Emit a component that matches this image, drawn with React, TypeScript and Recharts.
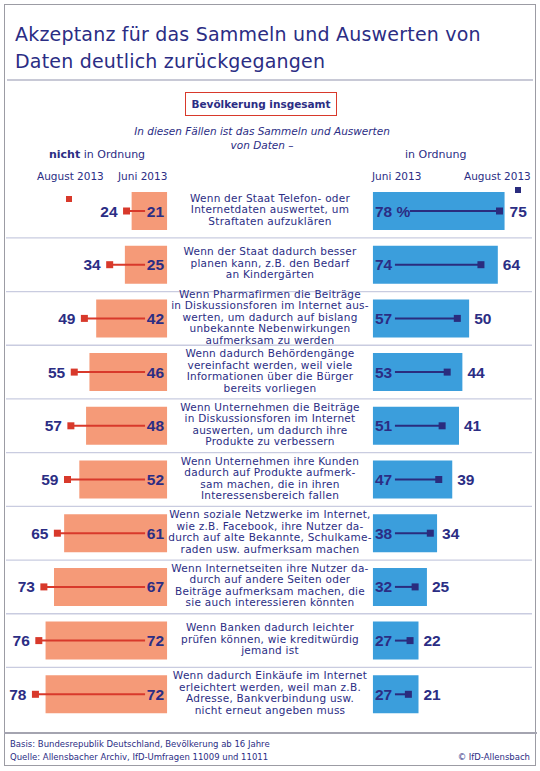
import { Bar, BarChart, LabelList, XAxis, YAxis } from "recharts";

const NAVY = "#2b2d84";
const SALMON = "#f59a78";
const BLUE = "#3b9edc";
const RED = "#d8392b";
const LINE_NAVY = "#2a2c7e";
const RULE = "#c9cce0";
const FONT = '"DejaVu Sans", sans-serif';
const NUM_FONT = '"Liberation Sans", Arial, sans-serif';

const statements = [
  "Wenn der Staat Telefon- oder\nInternetdaten auswertet, um\nStraftaten aufzuklären",
  "Wenn der Staat dadurch besser\nplanen kann, z.B. den Bedarf\nan Kindergärten",
  "Wenn Pharmafirmen die Beiträge\nin Diskussionsforen im Internet aus-\nwerten, um dadurch auf bislang\nunbekannte Nebenwirkungen\naufmerksam zu werden",
  "Wenn dadurch Behördengänge\nvereinfacht werden, weil viele\nInformationen über die Bürger\nbereits vorliegen",
  "Wenn Unternehmen die Beiträge\nin Diskussionsforen im Internet\nauswerten, um dadurch ihre\nProdukte zu verbessern",
  "Wenn Unternehmen ihre Kunden\ndadurch auf Produkte aufmerk-\nsam machen, die in ihren\nInteressensbereich fallen",
  "Wenn soziale Netzwerke im Internet,\nwie z.B. Facebook, ihre Nutzer da-\ndurch auf alte Bekannte, Schulkame-\nraden usw. aufmerksam machen",
  "Wenn Internetseiten ihre Nutzer da-\ndurch auf andere Seiten oder\nBeiträge aufmerksam machen, die\nsie auch interessieren könnten",
  "Wenn Banken dadurch leichter\nprüfen können, wie kreditwürdig\njemand ist",
  "Wenn dadurch Einkäufe im Internet\nerleichtert werden, weil man z.B.\nAdresse, Bankverbindung usw.\nnicht erneut angeben muss",
];

// "nicht in Ordnung"
const nichtJuni = [21, 25, 42, 46, 48, 52, 61, 67, 72, 72];
const nichtAugust = [24, 34, 49, 55, 57, 59, 65, 73, 76, 78];
// "in Ordnung"
const okJuni = [78, 74, 57, 53, 51, 47, 38, 32, 27, 27];
const okAugust = [75, 64, 50, 44, 41, 39, 34, 25, 22, 21];

// half width of the text column in the middle, in percentage points
const GAP = 61;
const W = 540;
const H = 771;
const TOP = 184;
const BOTTOM = 50;
const BAND = (H - TOP - BOTTOM) / statements.length;
const MID = W / 2;

const rows = statements.map((name, i) => ({
  name,
  nichtJuni: nichtJuni[i],
  nichtAugust: nichtAugust[i],
  okJuni: okJuni[i],
  okAugust: okAugust[i],
  leftBar: [-(GAP + nichtJuni[i]), -GAP],
  leftLine: [-(GAP + nichtAugust[i]), -GAP],
  rightBar: [GAP, GAP + okJuni[i]],
  rightLine: [GAP, GAP + okAugust[i]],
}));

const numStyle = {
  fontFamily: NUM_FONT,
  fontWeight: 700,
  fontSize: 15.5,
  fill: NAVY,
};

function box(p: any) {
  const vb = p.viewBox && p.viewBox.width !== undefined ? p.viewBox : p;
  return { x: vb.x, y: vb.y, width: vb.width, height: vb.height };
}

// statement text in the middle column plus the rule below each row
function StatementLabel(p: any) {
  const b = box(p);
  const cy = b.y + b.height / 2;
  const lines = String(p.value).split("\n");
  const lh = 11.5;
  const y0 = cy - 1.5 - ((lines.length - 1) * lh) / 2;
  return (
    <g>
      <text textAnchor="middle" fill={NAVY} fontSize={10.5} letterSpacing={0.25} fontFamily={FONT}>
        {lines.map((l, i) => (
          <tspan key={i} x={MID} y={y0 + i * lh} dy="0.36em">
            {l}
          </tspan>
        ))}
      </text>
      {p.index < statements.length - 1 ? (
        <line x1={6} x2={532} y1={cy + BAND / 2} y2={cy + BAND / 2} stroke={RULE} strokeWidth={1.3} />
      ) : null}
    </g>
  );
}

function LeftLine(props: any) {
  const { x, y, width, height, payload } = props;
  const cy = y + height / 2;
  const end = x + width - 22;
  return (
    <g>
      <line x1={x} x2={end} y1={cy} y2={cy} stroke={RED} strokeWidth={2} />
      <rect x={x - 3.5} y={cy - 3.5} width={7} height={7} fill={RED} />
      <text x={x - 9} y={cy} dy="0.36em" textAnchor="end" style={numStyle}>
        {payload.nichtAugust}
      </text>
    </g>
  );
}

function RightLine(props: any) {
  const { x, y, width, height, index } = props;
  const cy = y + height / 2;
  const start = x + (index === 0 ? 37 : 22);
  const end = x + width;
  return (
    <g>
      <line x1={start} x2={end} y1={cy} y2={cy} stroke={LINE_NAVY} strokeWidth={2} />
      <rect x={end - 3.5} y={cy - 3.5} width={7} height={7} fill={LINE_NAVY} />
    </g>
  );
}

function LeftJuniLabel(p: any) {
  const b = box(p);
  return (
    <text x={b.x + b.width - 3} y={b.y + b.height / 2} dy="0.36em" textAnchor="end" style={numStyle}>
      {p.value}
    </text>
  );
}

function RightJuniLabel(p: any) {
  const b = box(p);
  return (
    <text x={b.x + 2} y={b.y + b.height / 2} dy="0.36em" textAnchor="start" style={numStyle}>
      {p.index === 0 ? `${p.value} %` : p.value}
    </text>
  );
}

function RightAugustLabel(p: any) {
  const b = box(p);
  return (
    <text x={b.x + b.width + 5} y={b.y + b.height / 2} dy="0.36em" textAnchor="start" style={numStyle}>
      {p.value}
    </text>
  );
}

const abs = (left: number, top: number, extra: any = {}) => ({
  position: "absolute" as const,
  left,
  top,
  whiteSpace: "nowrap" as const,
  ...extra,
});

export default function App() {
  return (
    <div
      style={{
        position: "absolute",
        left: 0,
        top: 0,
        width: W,
        height: H,
        background: "#fff",
        fontFamily: FONT,
        color: NAVY,
      }}
    >
      {/* frame */}
      <div style={abs(4, 4, { width: 530, height: 760, border: "1.5px solid #9c9ca4" })} />
      <div style={abs(7, 79, { width: 526, height: 2, background: "#c8c9d6" })} />
      <div style={abs(4, 732, { width: 533, height: 1.5, background: "#a4a4b0" })} />

      <div style={abs(15, 21, { fontSize: 19, lineHeight: "27px", letterSpacing: 0.2 })}>
        Akzeptanz für das Sammeln und Auswerten von
        <br />
        Daten deutlich zurückgegangen
      </div>

      <div
        style={abs(185, 92, {
          width: 150,
          height: 22,
          border: `1.5px solid ${RED}`,
          fontWeight: 700,
          fontSize: 10.5,
          lineHeight: "22px",
          textAlign: "center",
        })}
      >
        Bevölkerung insgesamt
      </div>

      <div
        style={abs(112, 124, {
          width: 300,
          textAlign: "center",
          fontStyle: "italic",
          fontSize: 10.5,
          lineHeight: "14px",
        })}
      >
        In diesen Fällen ist das Sammeln und Auswerten
        <br />
        von Daten –
      </div>

      <div style={abs(49, 148, { fontSize: 11, lineHeight: "14px" })}>
        <b>nicht</b> in Ordnung
      </div>
      <div style={abs(405, 148, { fontSize: 11, lineHeight: "14px" })}>in Ordnung</div>
      <div style={abs(37, 169, { fontSize: 10.5, lineHeight: "14px" })}>August 2013</div>
      <div style={abs(118, 169, { fontSize: 10.5, lineHeight: "14px" })}>Juni 2013</div>
      <div style={abs(372, 169, { fontSize: 10.5, lineHeight: "14px" })}>Juni 2013</div>
      <div style={abs(464, 169, { fontSize: 10.5, lineHeight: "14px" })}>August 2013</div>
      <div style={abs(66, 196, { width: 6, height: 6, background: RED })} />
      <div style={abs(515, 187, { width: 6, height: 6, background: LINE_NAVY })} />

      <div style={{ position: "absolute", left: 0, top: 0 }}>
        <BarChart
          width={W}
          height={H}
          data={rows}
          layout="vertical"
          barGap={-38}
          margin={{ top: TOP, right: 0, bottom: BOTTOM, left: 0 }}
        >
          <XAxis type="number" domain={[-160, 160]} hide allowDataOverflow />
          <YAxis type="category" dataKey="name" hide />
          <Bar dataKey="leftBar" fill={SALMON} barSize={38} isAnimationActive={false}>
            <LabelList dataKey="nichtJuni" content={LeftJuniLabel} />
            <LabelList dataKey="name" content={StatementLabel} />
          </Bar>
          <Bar dataKey="leftLine" barSize={38} isAnimationActive={false} shape={LeftLine} />
          <Bar dataKey="rightBar" fill={BLUE} barSize={38} isAnimationActive={false}>
            <LabelList dataKey="okJuni" content={RightJuniLabel} />
            <LabelList dataKey="okAugust" content={RightAugustLabel} />
          </Bar>
          <Bar dataKey="rightLine" barSize={38} isAnimationActive={false} shape={RightLine} />
        </BarChart>
      </div>

      <div style={abs(10, 738, { fontSize: 8.5, lineHeight: "13px" })}>
        Basis: Bundesrepublik Deutschland, Bevölkerung ab 16 Jahre
        <br />
        Quelle: Allensbacher Archiv, IfD-Umfragen 11009 und 11011
      </div>
      <div style={abs(420, 751, { width: 110, textAlign: "right", fontSize: 8.5, lineHeight: "13px" })}>
        © IfD-Allensbach
      </div>
    </div>
  );
}
